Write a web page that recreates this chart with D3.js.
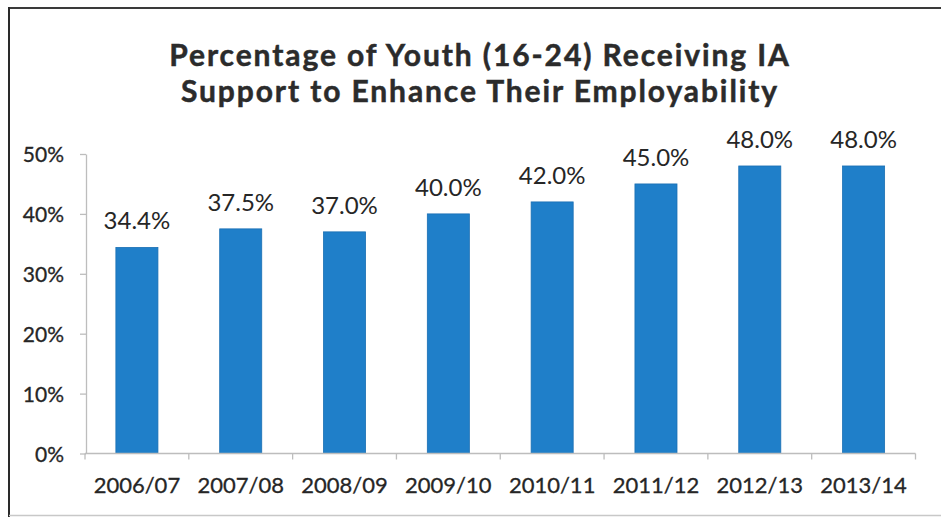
<!DOCTYPE html>
<html>
<head>
<meta charset="utf-8">
<script src="https://cdn.jsdelivr.net/npm/d3@7"></script>
<style>
  html, body { margin: 0; padding: 0; background: #fff; }
  svg { display: block; }
</style>
</head>
<body>
<svg id="chart" width="941" height="517"></svg>
<script>
// Fiscal years and share of youth receiving IA employability support (%)
const years = ["2006/07", "2007/08", "2008/09", "2009/10", "2010/11", "2011/12", "2012/13", "2013/14"];
const shares = [34.4, 37.5, 37.0, 40.0, 42.0, 45.0, 48.0, 48.0];
const yTicks = [0, 10, 20, 30, 40, 50];
const titleLines = ["Percentage of Youth (16-24) Receiving IA", "Support to Enhance Their Employability"];

const svg = d3.select("#chart");
const W = 941, H = 517;
const font = "Lato, 'Open Sans', sans-serif";
const textColor = "#262626";

// outer frame
svg.append("line").attr("x1", 8).attr("x2", W).attr("y1", 8).attr("y2", 8)
  .attr("stroke", "#3a3a3a").attr("stroke-width", 2.2);
svg.append("line").attr("x1", 9).attr("x2", 9).attr("y1", 7).attr("y2", H)
  .attr("stroke", "#2a2a2a").attr("stroke-width", 2);
svg.append("line").attr("x1", 9).attr("x2", W).attr("y1", 515.5).attr("y2", 515.5)
  .attr("stroke", "#c8c8c8").attr("stroke-width", 1.5);

// title
svg.append("g").selectAll("text").data(titleLines).join("text")
  .attr("x", 480).attr("y", (d, i) => 65.5 + i * 36.5)
  .attr("text-anchor", "middle")
  .attr("font-family", font).attr("font-weight", 700).attr("font-size", 30)
  .attr("letter-spacing", 1.9)
  .attr("fill", "#2b2b2b")
  .attr("stroke", "#2b2b2b").attr("stroke-width", 0.5)
  .text(d => d);

const x = d3.scaleBand().domain(years).range([85, 915.5]).paddingInner(0.595).paddingOuter(0.2975);
const y = d3.scaleLinear().domain([0, 50]).range([453.5, 154]);

// y axis
const yAxis = svg.append("g").attr("transform", "translate(86,0)")
  .call(d3.axisLeft(y).tickValues(yTicks).tickFormat(d => d + "%").tickSize(6).tickSizeOuter(0));
yAxis.select(".domain").attr("stroke", "#bdbdbd").attr("stroke-width", 1.3);
yAxis.selectAll(".tick line").attr("stroke", "#bdbdbd").attr("stroke-width", 1.3);
yAxis.selectAll(".tick text").attr("font-family", font).attr("font-size", 21)
  .attr("fill", textColor).attr("x", -22).attr("dy", "0.36em")
  .attr("stroke", textColor).attr("stroke-width", 0.3);

// bars
svg.append("g").selectAll("rect").data(years).join("rect")
  .attr("x", d => x(d)).attr("width", x.bandwidth())
  .attr("y", (d, i) => y(shares[i])).attr("height", (d, i) => y(0) - y(shares[i]))
  .attr("fill", "#1f7fc9").attr("stroke", "#1a6fb3").attr("stroke-width", 0.8);

// x axis with ticks at category boundaries
const xg = svg.append("g").attr("transform", `translate(0,${y(0)})`);
xg.append("line").attr("x1", 85).attr("x2", 915.5).attr("y1", 0).attr("y2", 0)
  .attr("stroke", "#bdbdbd").attr("stroke-width", 1.3);
const step = x.step();
const bounds = d3.range(years.length + 1).map(i => 85 + i * step);
xg.selectAll("line.b").data(bounds).join("line").attr("class", "b")
  .attr("x1", d => d).attr("x2", d => d).attr("y1", 0).attr("y2", 6)
  .attr("stroke", "#bdbdbd").attr("stroke-width", 1.3);
xg.selectAll("text").data(years).join("text")
  .attr("x", d => x(d) + x.bandwidth() / 2).attr("y", 39.5)
  .attr("text-anchor", "middle")
  .attr("font-family", font).attr("font-size", 22).attr("fill", textColor)
  .attr("stroke", textColor).attr("stroke-width", 0.3)
  .text(d => d);

// value labels
svg.append("g").selectAll("text").data(years).join("text")
  .attr("x", d => x(d) + x.bandwidth() / 2)
  .attr("y", (d, i) => y(shares[i]) - 18)
  .attr("text-anchor", "middle")
  .attr("font-family", font).attr("font-size", 24).attr("fill", textColor)
  .text((d, i) => shares[i].toFixed(1) + "%");
</script>
</body>
</html>
